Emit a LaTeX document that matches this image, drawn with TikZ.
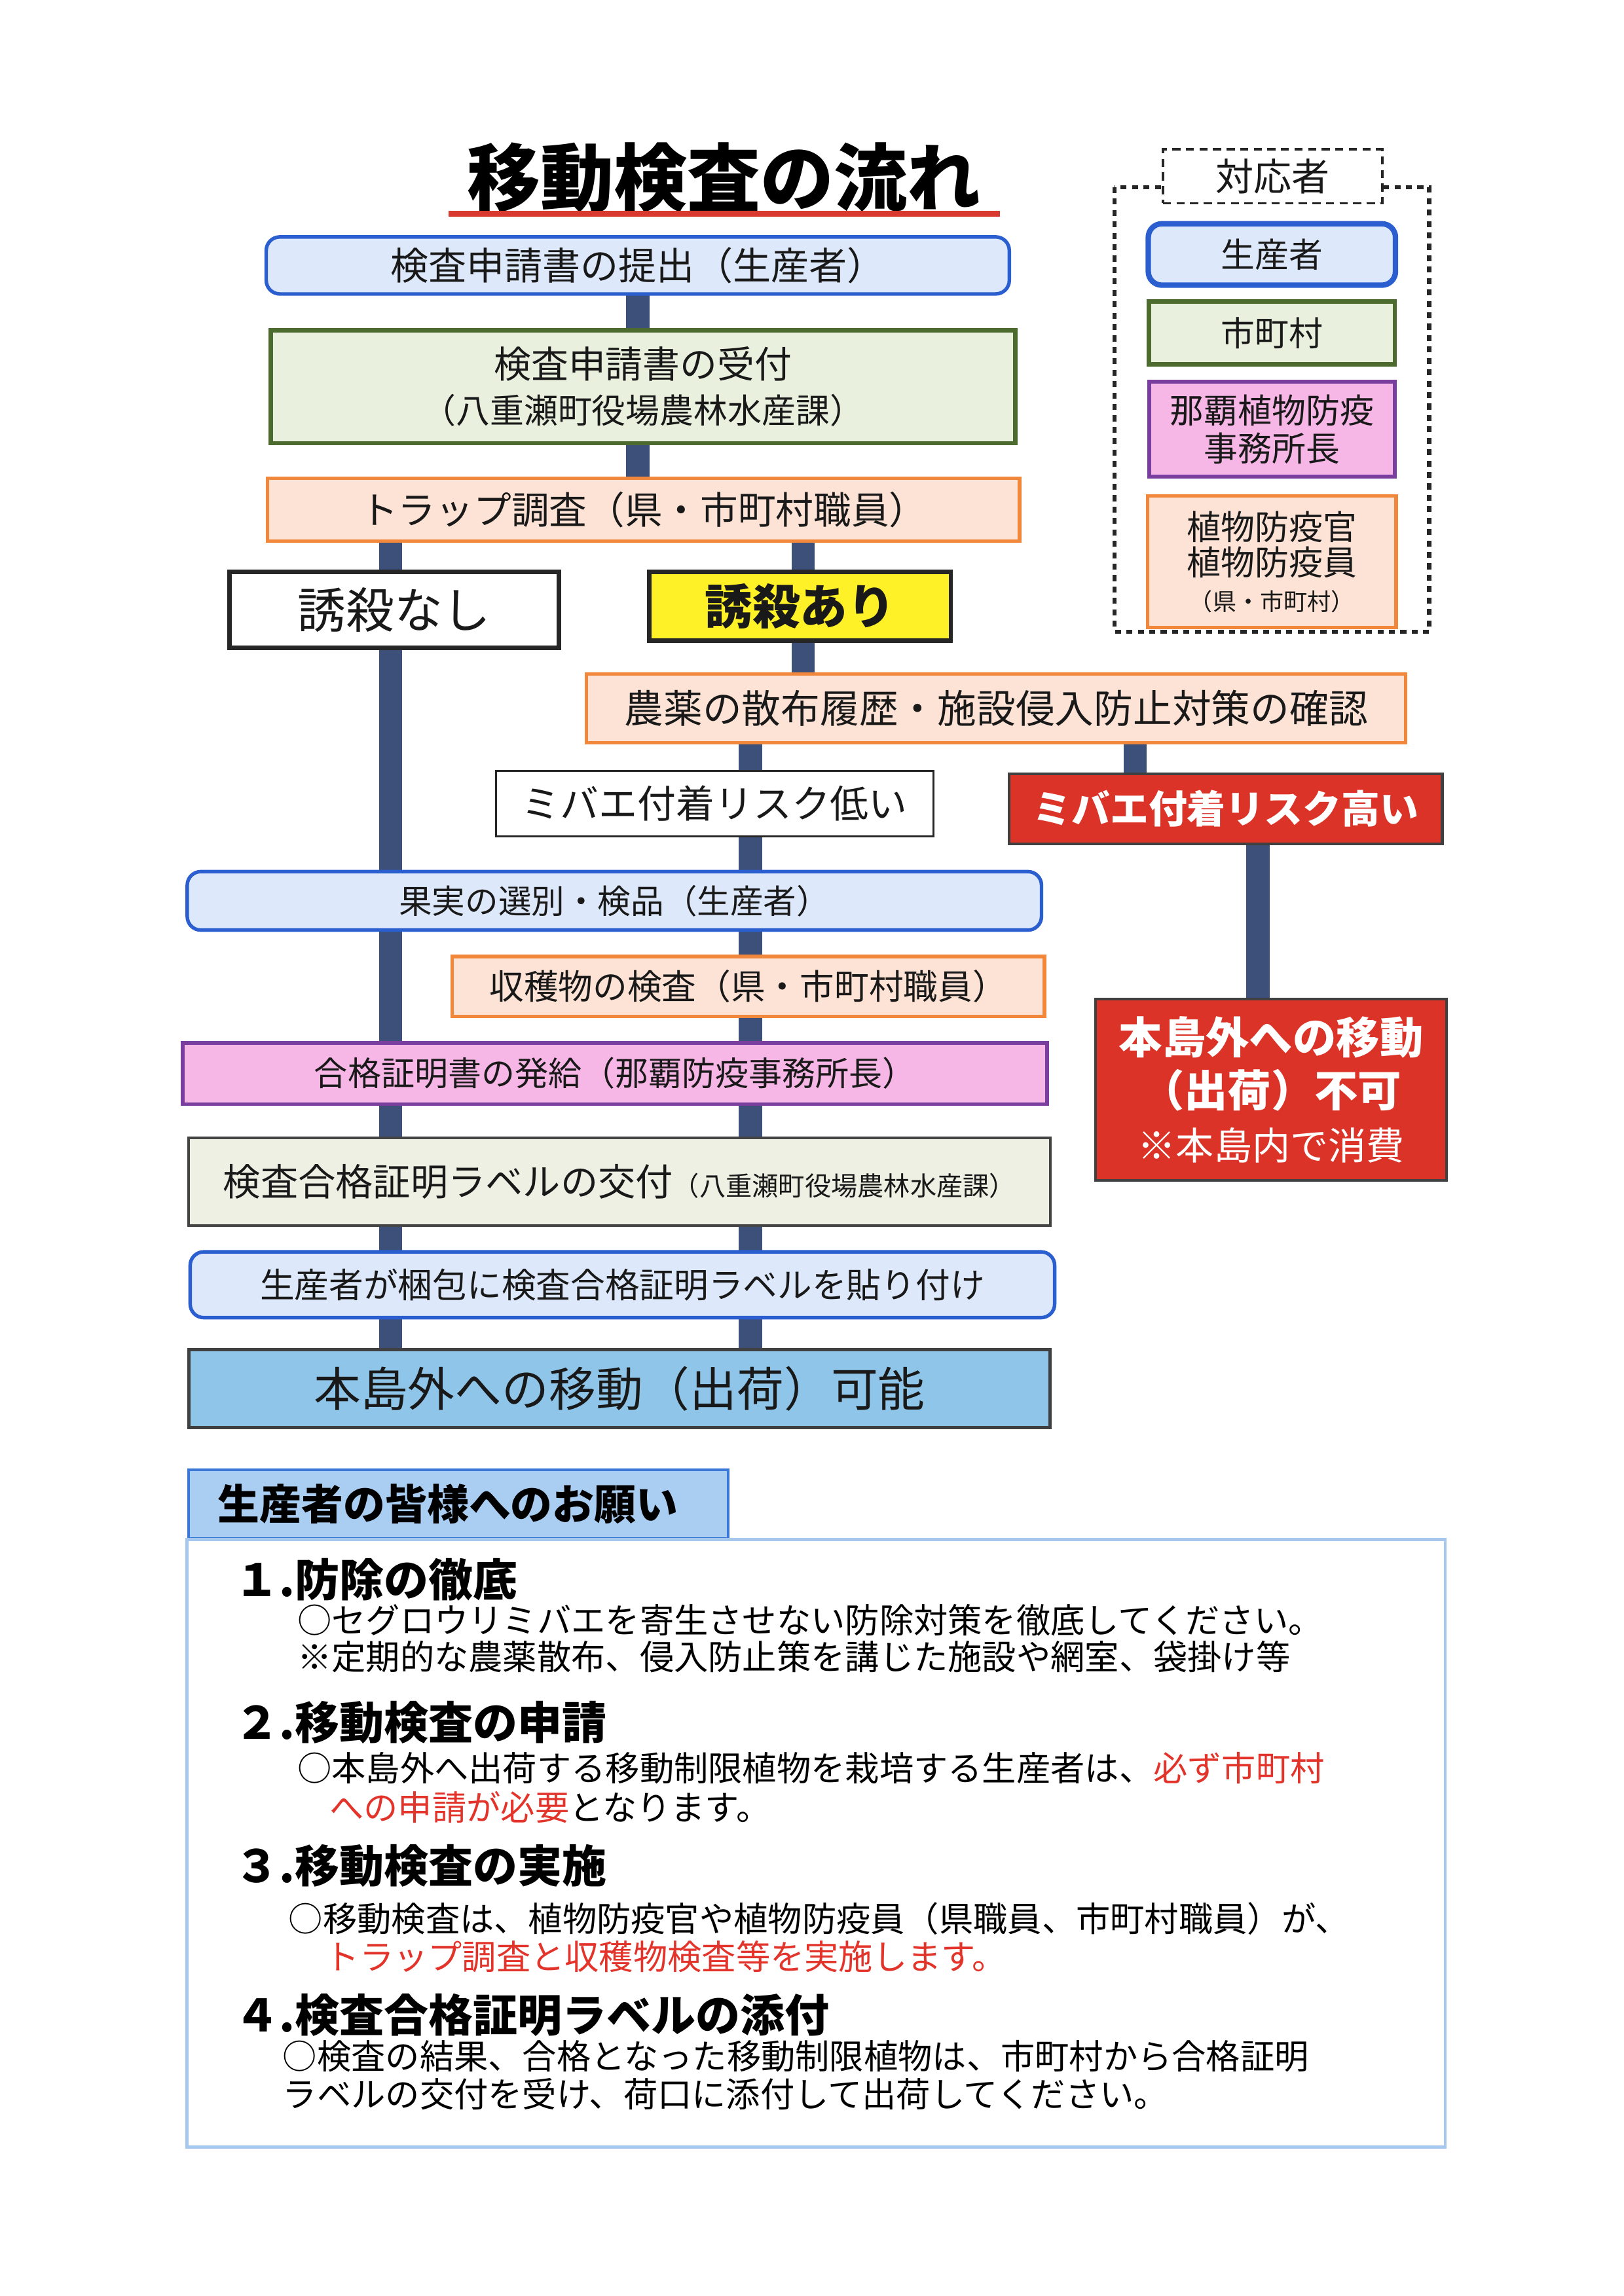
\documentclass[tikz,border=0pt]{standalone}
\usepackage{fontspec}
\setmainfont{Noto Sans CJK JP}
\usepackage{tikz}
\usetikzlibrary{positioning,backgrounds}
\newlength\gridu
\setlength\gridu{0.0189189cm}
\newcommand\jfs[2]{\fontsize{#1}{#2}\selectfont}
\definecolor{prodline}{HTML}{2B5FD0}
\definecolor{prodfill}{HTML}{DDE9FA}
\definecolor{cityline}{HTML}{4D6B2E}
\definecolor{cityfill}{HTML}{E9F0DD}
\definecolor{staffline}{HTML}{F0873A}
\definecolor{stafffill}{HTML}{FDE3D6}
\definecolor{officeline}{HTML}{7A3F9E}
\definecolor{officefill}{HTML}{F7B7E6}
\definecolor{killyellow}{HTML}{FFF127}
\definecolor{alertred}{HTML}{DC3328}
\definecolor{labelline}{HTML}{444444}
\definecolor{labelfill}{HTML}{EEF0E4}
\definecolor{okfill}{HTML}{8EC5E8}
\definecolor{barblue}{HTML}{3D5079}
\definecolor{noteline}{HTML}{A6C8EE}
\definecolor{tabfill}{HTML}{AACDF2}
\definecolor{tabline}{HTML}{3B78D8}
\definecolor{notered}{HTML}{E3342B}
\definecolor{titlered}{HTML}{D93A2E}
\tikzset{flow box/.style={draw, inner sep=0pt, align=center, text=black!90},
  box size/.style 2 args={minimum width=#1\gridu, minimum height=#2\gridu},
  prod box/.style={flow box, draw=prodline, fill=prodfill, rounded corners=5pt, line width=1.3pt},
  city box/.style={flow box, draw=cityline, fill=cityfill, line width=1.6pt},
  staff box/.style={flow box, draw=staffline, fill=stafffill, line width=1.3pt},
  office box/.style={flow box, draw=officeline, fill=officefill, line width=1.4pt},
  plain box/.style={flow box, draw=black!85, fill=white, line width=1.6pt},
  thin box/.style={flow box, draw=black!85, fill=white, line width=0.8pt},
  kill box/.style={flow box, draw=black!85, fill=killyellow, line width=1.6pt},
  alert box/.style={flow box, draw=black!75, fill=alertred, text=white, line width=1pt},
  label box/.style={flow box, draw=labelline, fill=labelfill, line width=1.1pt},
  ok box/.style={flow box, draw=black!75, fill=okfill, line width=1.2pt},
  bar/.style={draw=barblue, line width=8.5pt},
  legend frame/.style={draw=black!85, line width=1.5pt, dash pattern=on 2.2pt off 2pt},
  legend title/.style={flow box, draw=black!85, fill=white, line width=0.9pt, dash pattern=on 3pt off 2pt},
  note frame/.style={draw=noteline, line width=1.2pt},
  tab box/.style={draw=tabline, fill=tabfill, line width=1pt, inner ysep=0pt, inner xsep=20\gridu, align=left},
  heading/.style={inner sep=0pt, anchor=west, font=\jfs{16.4}{19}\bfseries},
  body/.style={inner sep=0pt, anchor=west, font=\jfs{12.6}{15}},
}

\begin{document}
\begin{tikzpicture}[x=0.0189189cm, y=-0.0189189cm]
\useasboundingbox (0,0) rectangle (1110,1570);

% title
\node[inner sep=0pt, anchor=south, minimum width=376\gridu, font=\jfs{27}{32}\bfseries] (title) at (495,146) {移動検査の流れ};
\draw[titlered, line width=2.2pt] (title.south west) -- (title.south east);

% flow
\node[prod box, box size={508}{39}, font=\jfs{14}{17}] (apply) at (436,181.5) {検査申請書の提出（生産者）};
\node[city box, box size={509}{77}, font=\jfs{13.7}{16.7}] (accept) at (439.5,264.5) {検査申請書の受付\\{\jfs{12.5}{16.7}（八重瀬町役場農林水産課）}};
\node[staff box, box size={514}{43}, font=\jfs{13.9}{17}] (trap) at (440,348.5) {トラップ調査（県・市町村職員）};
\node[plain box, box size={225}{52}, font=\jfs{17.8}{21}] (nokill) at (269.5,417) {誘殺なし};
\node[kill box, box size={206}{47}, font=\jfs{17.5}{21}\bfseries] (kill) at (547,414.5) {誘殺あり};
\node[staff box, box size={560}{47}, font=\jfs{14.4}{17}] (check) at (681,484.5) {農薬の散布履歴・施設侵入防止対策の確認};
\node[thin box, box size={299}{45}, font=\jfs{14.2}{17}] (lowrisk) at (488.5,549.5) {ミバエ付着リスク低い};
\node[alert box, box size={296}{48}, font=\jfs{14.2}{17}\bfseries] (highrisk) at (838,553) {ミバエ付着リスク高い};
\node[alert box, box size={240}{124}, font=\jfs{16}{19.5}\bfseries] (ng) at (869,745) {本島外への移動\\（出荷）不可\\{\mdseries\jfs{14}{19.5}※本島内で消費}};
\node[prod box, box size={584}{40}, font=\jfs{12.2}{15}] (sort) at (420,616) {果実の選別・検品（生産者）};
\node[staff box, box size={405}{41}, font=\jfs{12.7}{15}] (harvest) at (511.5,674.5) {収穫物の検査（県・市町村職員）};
\node[office box, box size={591}{42}, font=\jfs{12.3}{15}] (cert) at (420.5,734) {合格証明書の発給（那覇防疫事務所長）};
\node[label box, box size={589}{60}, font=\jfs{13.8}{16}] (label) at (423.5,808) {検査合格証明ラベルの交付{\jfs{9.7}{12}（八重瀬町役場農林水産課）}};
\node[prod box, box size={591}{45}, font=\jfs{12.7}{15}] (attach) at (425.5,878.5) {生産者が梱包に検査合格証明ラベルを貼り付け};
\node[ok box, box size={589}{53}, font=\jfs{17.3}{20}] (ok) at (423.5,949.5) {本島外への移動（出荷）可能};

% lanes
\coordinate (laneC) at (436,0);
\coordinate (laneL) at (267,0);
\coordinate (laneK) at (549,0);
\coordinate (laneR) at (513,0);
\coordinate (laneH) at (776,0);
\coordinate (laneN) at (860,0);
\begin{scope}[on background layer]
\draw[bar] (apply -| laneC) -- (trap -| laneC);
\draw[bar] (trap -| laneL) -- (ok -| laneL);
\draw[bar] (trap -| laneK) -- (check -| laneK);
\draw[bar] (check -| laneR) -- (ok -| laneR);
\draw[bar] (check -| laneH) -- (highrisk -| laneH);
\draw[bar] (highrisk -| laneN) -- (ng -| laneN);
\end{scope}

% legend
\draw[legend frame] (762,128) rectangle (977,432);
\node[legend title, box size={150}{37}, font=\jfs{14}{17}] (lgtitle) at (870,120.5) {対応者};
\node[prod box, line width=2pt, box size={169}{42}, font=\jfs{12.5}{15}] (lgprod) at (869.5,174) {生産者};
\node[city box, box size={168}{43}, font=\jfs{12.5}{15}, below=0.15cm of lgprod] (lgcity) {市町村};
\node[office box, box size={168}{65}, font=\jfs{12.5}{14}, below=0.17cm of lgcity] (lgoffice) {那覇植物防疫\\事務所長};
\node[staff box, box size={170}{90}, font=\jfs{12.5}{13}, below=0.2cm of lgoffice] (lgstaff) {植物防疫官\\植物防疫員\\{\jfs{8.7}{13}（県・市町村）}};

% notes
\node[tab box, anchor=north west, minimum height=47\gridu, text width=329\gridu, font=\jfs{15.4}{18}\bfseries] (tab) at (128,1004) {生産者の皆様へのお願い};
\draw[note frame] (tab.south west) rectangle (988,1468);

\node[heading] (h1) at (160,1080) {１.防除の徹底};
\node[body] (b1a) at (203,1108) {○セグロウリミバエを寄生させない防除対策を徹底してください。};
\node[body] (b1b) at (203,1133) {※定期的な農薬散布、侵入防止策を講じた施設や網室、袋掛け等};
\node[heading] (h2) at (160,1178) {２.移動検査の申請};
\node[body] (b2a) at (203,1209) {○本島外へ出荷する移動制限植物を栽培する生産者は、\textcolor{notered}{必ず市町村}};
\node[body] (b2b) at (225,1236) {\textcolor{notered}{への申請が必要}となります。};
\node[heading] (h3) at (160,1276) {３.移動検査の実施};
\node[body] (b3a) at (197,1312) {○移動検査は、植物防疫官や植物防疫員（県職員、市町村職員）が、};
\node[body, text=notered] (b3b) at (222,1338) {トラップ調査と収穫物検査等を実施します。};
\node[heading] (h4) at (160,1378) {４.検査合格証明ラベルの添付};
\node[body] (b4a) at (193,1406) {○検査の結果、合格となった移動制限植物は、市町村から合格証明};
\node[body] (b4b) at (193,1432) {ラベルの交付を受け、荷口に添付して出荷してください。};
\end{tikzpicture}
\end{document}
